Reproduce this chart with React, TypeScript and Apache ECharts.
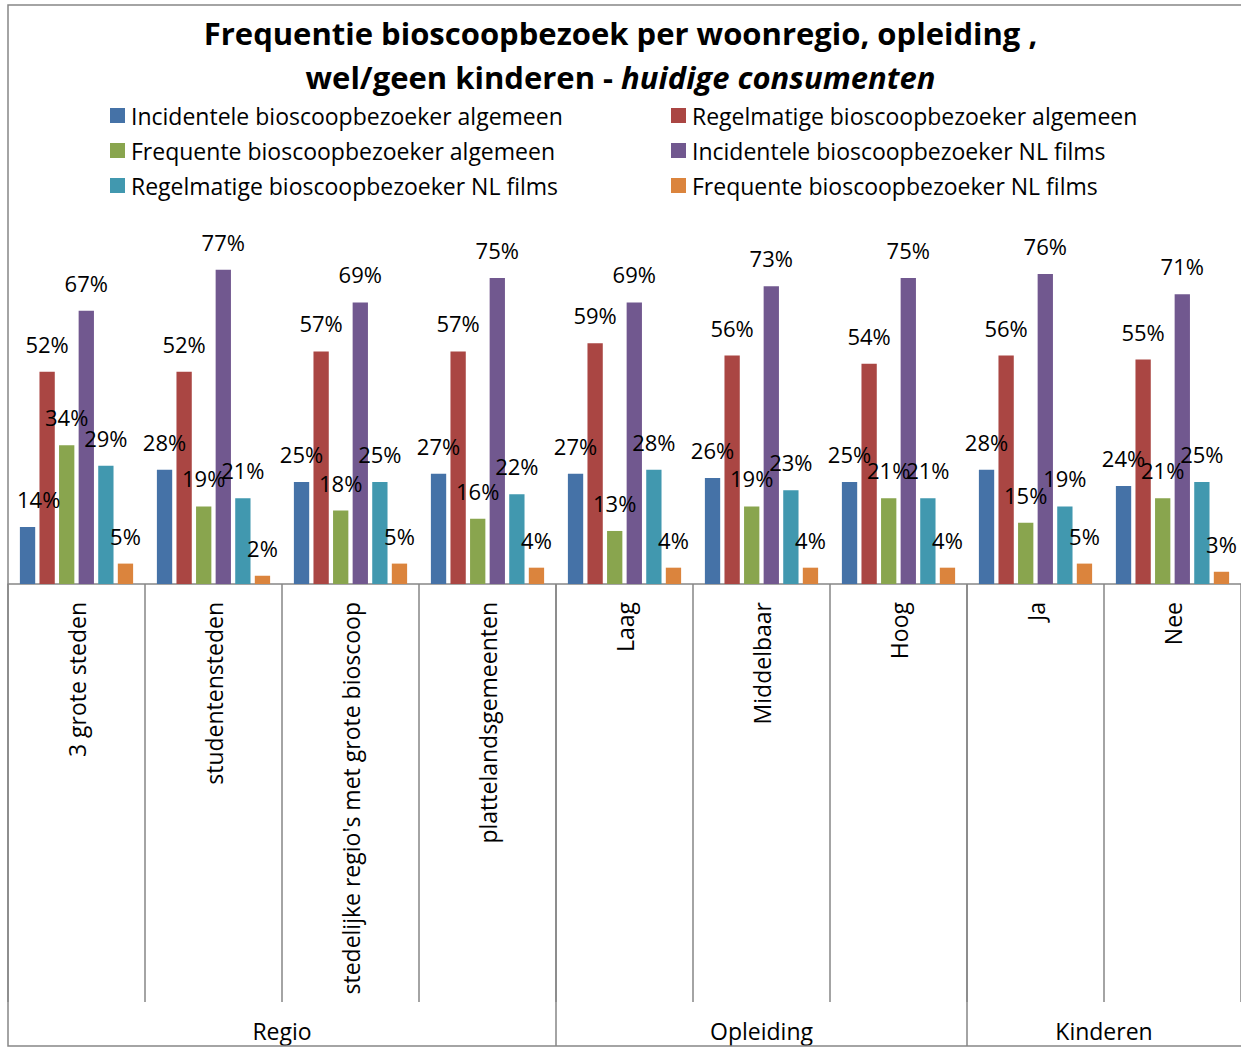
import React, { useEffect, useRef } from "react";
import * as echarts from "echarts";

const categories = [
  "3 grote steden",
  "studentensteden",
  "stedelijke regio's met grote bioscoop",
  "plattelandsgemeenten",
  "Laag",
  "Middelbaar",
  "Hoog",
  "Ja",
  "Nee",
];

const groups = [
  { name: "Regio", count: 4 },
  { name: "Opleiding", count: 3 },
  { name: "Kinderen", count: 2 },
];

const seriesNames = [
  "Incidentele bioscoopbezoeker algemeen",
  "Regelmatige bioscoopbezoeker algemeen",
  "Frequente bioscoopbezoeker algemeen",
  "Incidentele bioscoopbezoeker NL films",
  "Regelmatige bioscoopbezoeker NL films",
  "Frequente bioscoopbezoeker NL films",
];

const incidenteelAlgemeen = [14, 28, 25, 27, 27, 26, 25, 28, 24];
const regelmatigAlgemeen = [52, 52, 57, 57, 59, 56, 54, 56, 55];
const frequentAlgemeen = [34, 19, 18, 16, 13, 19, 21, 15, 21];
const incidenteelNL = [67, 77, 69, 75, 69, 73, 75, 76, 71];
const regelmatigNL = [29, 21, 25, 22, 28, 23, 21, 19, 25];
const frequentNL = [5, 2, 5, 4, 4, 4, 4, 5, 3];

const seriesValues = [
  incidenteelAlgemeen,
  regelmatigAlgemeen,
  frequentAlgemeen,
  incidenteelNL,
  regelmatigNL,
  frequentNL,
];

const colors = ["#4572A7", "#AA4643", "#89A54E", "#71588F", "#4198AF", "#DB843D"];

const FONT = "'Open Sans', sans-serif";
const GRAY = "#868686";

export default function App() {
  const ref = useRef<HTMLDivElement>(null);

  useEffect(() => {
    if (!ref.current) return;
    const chart = echarts.init(ref.current, null, { renderer: "svg" });

    const legendPos = [
      { left: 110, top: 104 },
      { left: 671, top: 104 },
      { left: 110, top: 139 },
      { left: 671, top: 139 },
      { left: 110, top: 174 },
      { left: 671, top: 174 },
    ];

    const option: any = {
      animation: false,
      backgroundColor: "#ffffff",
      color: colors,
      textStyle: { fontFamily: FONT },
      title: {
        left: "center",
        top: 6,
        text:
          "{b|Frequentie bioscoopbezoek per woonregio, opleiding ,}\n{b|wel/geen kinderen - }{bi|huidige consumenten}",
        textStyle: {
          rich: {
            b: { fontFamily: FONT, fontWeight: "bold", fontSize: 31, color: "#000", lineHeight: 44 },
            bi: {
              fontFamily: FONT,
              fontWeight: "bold",
              fontStyle: "italic",
              fontSize: 31,
              color: "#000",
              lineHeight: 44,
            },
          },
        },
      },
      legend: seriesNames.map((n, i) => ({
        data: [n],
        left: legendPos[i].left,
        top: legendPos[i].top,
        padding: 0,
        itemWidth: 15,
        itemHeight: 15,
        icon: "rect",
        selectedMode: false,
        textStyle: { fontFamily: FONT, fontSize: 23, color: "#000", padding: [0, 0, 0, 1] },
      })),
      grid: { left: 8, top: 176, width: 1234, height: 408 },
      xAxis: {
        type: "category",
        data: categories,
        axisLine: { lineStyle: { color: GRAY, width: 1.5 } },
        axisTick: { show: true, interval: 0, length: 418, lineStyle: { color: GRAY, width: 1.5 } },
        axisLabel: {
          interval: 0,
          rotate: 90,
          margin: 18,
          fontFamily: FONT,
          fontSize: 23,
          color: "#000",
        },
      },
      yAxis: { type: "value", min: 0, max: 100, show: false, splitLine: { show: false } },
      series: seriesNames.map((n, i) => ({
        name: n,
        type: "bar",
        data: seriesValues[i],
        barWidth: 15.3,
        barGap: "28%",
        itemStyle: { color: colors[i] },
        label: {
          show: true,
          position: "top",
          distance: 17,
          formatter: "{c}%",
          fontFamily: FONT,
          fontSize: 22,
          color: "#000",
        },
        labelLayout: (params: any) => {
          const r = params.labelRect;
          if (r && r.x < 16) {
            return { x: r.x + r.width / 2 + (17 - r.x), y: r.y + r.height / 2, align: "center", verticalAlign: "middle" };
          }
          return {};
        },
      })),
    };

    chart.setOption(option);

    const c0 = chart.convertToPixel({ xAxisIndex: 0 }, 0) as number;
    const c1 = chart.convertToPixel({ xAxisIndex: 0 }, 1) as number;
    const bw = c1 - c0;
    const start = c0 - bw / 2;
    const base = chart.convertToPixel({ yAxisIndex: 0 }, 0) as number;
    const bottom = 1046;

    const graphics: any[] = [
      {
        type: "rect",
        shape: { x: 8, y: 5, width: 1240, height: bottom - 5 },
        style: { fill: "none", stroke: GRAY, lineWidth: 1.5 },
        z: 100,
        silent: true,
      },
    ];
    let idx = 0;
    groups.forEach((g, gi) => {
      const gx0 = start + idx * bw;
      const gx1 = start + (idx + g.count) * bw;
      if (gi > 0) {
        graphics.push({
          type: "line",
          shape: { x1: gx0, y1: base, x2: gx0, y2: bottom },
          style: { stroke: GRAY, lineWidth: 1.5 },
          silent: true,
        });
      }
      graphics.push({
        type: "text",
        x: (gx0 + gx1) / 2,
        y: 1031,
        style: {
          text: g.name,
          fontFamily: FONT,
          fontSize: 23,
          fill: "#000",
          textAlign: "center",
          textVerticalAlign: "middle",
        },
        silent: true,
      });
      idx += g.count;
    });

    chart.setOption({ graphic: graphics });

    return () => chart.dispose();
  }, []);

  return (
    <div
      ref={ref}
      style={{ position: "absolute", left: 0, top: 0, width: 1241, height: 1047, background: "#fff" }}
    />
  );
}
